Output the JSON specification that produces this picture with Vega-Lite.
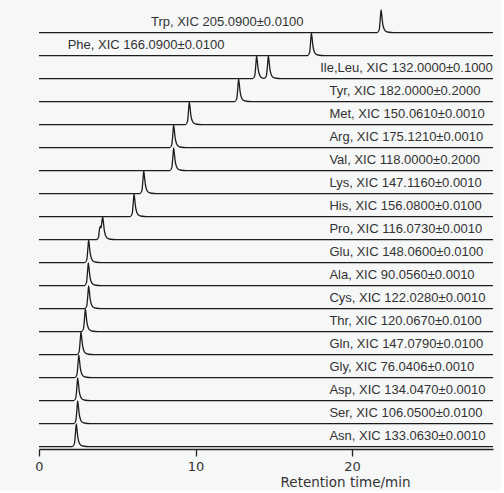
{
"$schema":"https://vega.github.io/schema/vega-lite/v6.json",
"background":"#f6f7f7",
"padding":{"left":34,"top":7,"right":5,"bottom":2},
"bounds":"flush",
"data":{"values":[
{"name":"Trp","time":0,"signal":0,"label":"Trp, XIC 205.0900±0.0100"},{"name":"Trp","time":21.6,"signal":0},{"name":"Trp","time":21.73,"signal":0.12},{"name":"Trp","time":21.8,"signal":0.6},{"name":"Trp","time":21.85,"signal":1},{"name":"Trp","time":21.89,"signal":0.8},{"name":"Trp","time":21.95,"signal":0.42},{"name":"Trp","time":22.03,"signal":0.18},{"name":"Trp","time":22.15,"signal":0.06},{"name":"Trp","time":22.35,"signal":0.015},{"name":"Trp","time":22.65,"signal":0},{"name":"Trp","time":29,"signal":0},
{"name":"Phe","time":0,"signal":0,"label":"Phe, XIC 166.0900±0.0100"},{"name":"Phe","time":17.15,"signal":0},{"name":"Phe","time":17.28,"signal":0.12},{"name":"Phe","time":17.35,"signal":0.6},{"name":"Phe","time":17.4,"signal":1},{"name":"Phe","time":17.44,"signal":0.8},{"name":"Phe","time":17.5,"signal":0.42},{"name":"Phe","time":17.58,"signal":0.18},{"name":"Phe","time":17.7,"signal":0.06},{"name":"Phe","time":17.9,"signal":0.015},{"name":"Phe","time":18.2,"signal":0},{"name":"Phe","time":29,"signal":0},
{"name":"Ile,Leu","time":0,"signal":0,"label":"Ile,Leu, XIC 132.0000±0.1000"},{"name":"Ile,Leu","time":13.65,"signal":0},{"name":"Ile,Leu","time":13.78,"signal":0.12},{"name":"Ile,Leu","time":13.85,"signal":0.6},{"name":"Ile,Leu","time":13.9,"signal":1},{"name":"Ile,Leu","time":13.94,"signal":0.8},{"name":"Ile,Leu","time":14.0,"signal":0.42},{"name":"Ile,Leu","time":14.08,"signal":0.18},{"name":"Ile,Leu","time":14.2,"signal":0.05},{"name":"Ile,Leu","time":14.38,"signal":0.01},{"name":"Ile,Leu","time":14.52,"signal":0.12},{"name":"Ile,Leu","time":14.6,"signal":0.6},{"name":"Ile,Leu","time":14.65,"signal":1},{"name":"Ile,Leu","time":14.69,"signal":0.8},{"name":"Ile,Leu","time":14.75,"signal":0.42},{"name":"Ile,Leu","time":14.83,"signal":0.18},{"name":"Ile,Leu","time":14.95,"signal":0.06},{"name":"Ile,Leu","time":15.15,"signal":0.015},{"name":"Ile,Leu","time":15.45,"signal":0},{"name":"Ile,Leu","time":29,"signal":0},
{"name":"Tyr","time":0,"signal":0,"label":"Tyr, XIC 182.0000±0.2000"},{"name":"Tyr","time":12.5,"signal":0},{"name":"Tyr","time":12.63,"signal":0.12},{"name":"Tyr","time":12.7,"signal":0.6},{"name":"Tyr","time":12.75,"signal":1},{"name":"Tyr","time":12.79,"signal":0.8},{"name":"Tyr","time":12.85,"signal":0.42},{"name":"Tyr","time":12.93,"signal":0.18},{"name":"Tyr","time":13.05,"signal":0.06},{"name":"Tyr","time":13.25,"signal":0.015},{"name":"Tyr","time":13.55,"signal":0},{"name":"Tyr","time":29,"signal":0},
{"name":"Met","time":0,"signal":0,"label":"Met, XIC 150.0610±0.0010"},{"name":"Met","time":9.35,"signal":0},{"name":"Met","time":9.48,"signal":0.12},{"name":"Met","time":9.55,"signal":0.6},{"name":"Met","time":9.6,"signal":1},{"name":"Met","time":9.64,"signal":0.8},{"name":"Met","time":9.7,"signal":0.42},{"name":"Met","time":9.78,"signal":0.18},{"name":"Met","time":9.9,"signal":0.06},{"name":"Met","time":10.1,"signal":0.015},{"name":"Met","time":10.4,"signal":0},{"name":"Met","time":29,"signal":0},
{"name":"Arg","time":0,"signal":0,"label":"Arg, XIC 175.1210±0.0010"},{"name":"Arg","time":8.35,"signal":0},{"name":"Arg","time":8.48,"signal":0.12},{"name":"Arg","time":8.55,"signal":0.6},{"name":"Arg","time":8.6,"signal":1},{"name":"Arg","time":8.64,"signal":0.8},{"name":"Arg","time":8.7,"signal":0.42},{"name":"Arg","time":8.78,"signal":0.18},{"name":"Arg","time":8.9,"signal":0.06},{"name":"Arg","time":9.1,"signal":0.015},{"name":"Arg","time":9.4,"signal":0},{"name":"Arg","time":29,"signal":0},
{"name":"Val","time":0,"signal":0,"label":"Val, XIC 118.0000±0.2000"},{"name":"Val","time":8.35,"signal":0},{"name":"Val","time":8.48,"signal":0.12},{"name":"Val","time":8.55,"signal":0.6},{"name":"Val","time":8.6,"signal":1},{"name":"Val","time":8.64,"signal":0.8},{"name":"Val","time":8.7,"signal":0.42},{"name":"Val","time":8.78,"signal":0.18},{"name":"Val","time":8.9,"signal":0.06},{"name":"Val","time":9.1,"signal":0.015},{"name":"Val","time":9.4,"signal":0},{"name":"Val","time":29,"signal":0},
{"name":"Lys","time":0,"signal":0,"label":"Lys, XIC 147.1160±0.0010"},{"name":"Lys","time":6.44,"signal":0},{"name":"Lys","time":6.57,"signal":0.12},{"name":"Lys","time":6.64,"signal":0.6},{"name":"Lys","time":6.69,"signal":1},{"name":"Lys","time":6.73,"signal":0.8},{"name":"Lys","time":6.79,"signal":0.42},{"name":"Lys","time":6.87,"signal":0.18},{"name":"Lys","time":6.99,"signal":0.06},{"name":"Lys","time":7.19,"signal":0.015},{"name":"Lys","time":7.49,"signal":0},{"name":"Lys","time":29,"signal":0},
{"name":"His","time":0,"signal":0,"label":"His, XIC 156.0800±0.0100"},{"name":"His","time":5.82,"signal":0},{"name":"His","time":5.95,"signal":0.12},{"name":"His","time":6.02,"signal":0.6},{"name":"His","time":6.07,"signal":1},{"name":"His","time":6.11,"signal":0.8},{"name":"His","time":6.17,"signal":0.42},{"name":"His","time":6.25,"signal":0.18},{"name":"His","time":6.37,"signal":0.06},{"name":"His","time":6.57,"signal":0.015},{"name":"His","time":6.87,"signal":0},{"name":"His","time":29,"signal":0},
{"name":"Pro","time":0,"signal":0,"label":"Pro, XIC 116.0730±0.0010"},{"name":"Pro","time":3.68,"signal":0},{"name":"Pro","time":3.8,"signal":0.1},{"name":"Pro","time":3.86,"signal":0.45},{"name":"Pro","time":3.91,"signal":0.58},{"name":"Pro","time":3.96,"signal":0.52},{"name":"Pro","time":4.01,"signal":0.75},{"name":"Pro","time":4.07,"signal":1},{"name":"Pro","time":4.11,"signal":0.8},{"name":"Pro","time":4.17,"signal":0.42},{"name":"Pro","time":4.25,"signal":0.18},{"name":"Pro","time":4.37,"signal":0.06},{"name":"Pro","time":4.57,"signal":0.015},{"name":"Pro","time":4.87,"signal":0},{"name":"Pro","time":29,"signal":0},
{"name":"Glu","time":0,"signal":0,"label":"Glu, XIC 148.0600±0.0100"},{"name":"Glu","time":2.92,"signal":0},{"name":"Glu","time":3.05,"signal":0.12},{"name":"Glu","time":3.12,"signal":0.6},{"name":"Glu","time":3.17,"signal":1},{"name":"Glu","time":3.21,"signal":0.8},{"name":"Glu","time":3.27,"signal":0.42},{"name":"Glu","time":3.35,"signal":0.18},{"name":"Glu","time":3.47,"signal":0.06},{"name":"Glu","time":3.67,"signal":0.015},{"name":"Glu","time":3.97,"signal":0},{"name":"Glu","time":29,"signal":0},
{"name":"Ala","time":0,"signal":0,"label":"Ala, XIC 90.0560±0.0010"},{"name":"Ala","time":2.9,"signal":0},{"name":"Ala","time":3.03,"signal":0.12},{"name":"Ala","time":3.1,"signal":0.6},{"name":"Ala","time":3.15,"signal":1},{"name":"Ala","time":3.19,"signal":0.8},{"name":"Ala","time":3.25,"signal":0.42},{"name":"Ala","time":3.33,"signal":0.18},{"name":"Ala","time":3.45,"signal":0.06},{"name":"Ala","time":3.65,"signal":0.015},{"name":"Ala","time":3.95,"signal":0},{"name":"Ala","time":29,"signal":0},
{"name":"Cys","time":0,"signal":0,"label":"Cys, XIC 122.0280±0.0010"},{"name":"Cys","time":2.92,"signal":0},{"name":"Cys","time":3.05,"signal":0.12},{"name":"Cys","time":3.12,"signal":0.6},{"name":"Cys","time":3.17,"signal":1},{"name":"Cys","time":3.21,"signal":0.8},{"name":"Cys","time":3.27,"signal":0.42},{"name":"Cys","time":3.35,"signal":0.18},{"name":"Cys","time":3.47,"signal":0.06},{"name":"Cys","time":3.67,"signal":0.015},{"name":"Cys","time":3.97,"signal":0},{"name":"Cys","time":29,"signal":0},
{"name":"Thr","time":0,"signal":0,"label":"Thr, XIC 120.0670±0.0100"},{"name":"Thr","time":2.71,"signal":0},{"name":"Thr","time":2.84,"signal":0.12},{"name":"Thr","time":2.91,"signal":0.6},{"name":"Thr","time":2.96,"signal":1},{"name":"Thr","time":3.0,"signal":0.8},{"name":"Thr","time":3.06,"signal":0.42},{"name":"Thr","time":3.14,"signal":0.18},{"name":"Thr","time":3.26,"signal":0.06},{"name":"Thr","time":3.46,"signal":0.015},{"name":"Thr","time":3.76,"signal":0},{"name":"Thr","time":29,"signal":0},
{"name":"Gln","time":0,"signal":0,"label":"Gln, XIC 147.0790±0.0100"},{"name":"Gln","time":2.43,"signal":0},{"name":"Gln","time":2.56,"signal":0.12},{"name":"Gln","time":2.63,"signal":0.6},{"name":"Gln","time":2.68,"signal":1},{"name":"Gln","time":2.72,"signal":0.8},{"name":"Gln","time":2.78,"signal":0.42},{"name":"Gln","time":2.86,"signal":0.18},{"name":"Gln","time":2.98,"signal":0.06},{"name":"Gln","time":3.18,"signal":0.015},{"name":"Gln","time":3.48,"signal":0},{"name":"Gln","time":29,"signal":0},
{"name":"Gly","time":0,"signal":0,"label":"Gly, XIC 76.0406±0.0010"},{"name":"Gly","time":2.29,"signal":0},{"name":"Gly","time":2.42,"signal":0.12},{"name":"Gly","time":2.49,"signal":0.6},{"name":"Gly","time":2.54,"signal":1},{"name":"Gly","time":2.58,"signal":0.8},{"name":"Gly","time":2.64,"signal":0.42},{"name":"Gly","time":2.72,"signal":0.18},{"name":"Gly","time":2.84,"signal":0.06},{"name":"Gly","time":3.04,"signal":0.015},{"name":"Gly","time":3.34,"signal":0},{"name":"Gly","time":29,"signal":0},
{"name":"Asp","time":0,"signal":0,"label":"Asp, XIC 134.0470±0.0010"},{"name":"Asp","time":2.22,"signal":0},{"name":"Asp","time":2.35,"signal":0.12},{"name":"Asp","time":2.42,"signal":0.6},{"name":"Asp","time":2.47,"signal":1},{"name":"Asp","time":2.51,"signal":0.8},{"name":"Asp","time":2.57,"signal":0.42},{"name":"Asp","time":2.65,"signal":0.18},{"name":"Asp","time":2.77,"signal":0.06},{"name":"Asp","time":2.97,"signal":0.015},{"name":"Asp","time":3.27,"signal":0},{"name":"Asp","time":29,"signal":0},
{"name":"Ser","time":0,"signal":0,"label":"Ser, XIC 106.0500±0.0100"},{"name":"Ser","time":2.22,"signal":0},{"name":"Ser","time":2.35,"signal":0.12},{"name":"Ser","time":2.42,"signal":0.6},{"name":"Ser","time":2.47,"signal":1},{"name":"Ser","time":2.51,"signal":0.8},{"name":"Ser","time":2.57,"signal":0.42},{"name":"Ser","time":2.65,"signal":0.18},{"name":"Ser","time":2.77,"signal":0.06},{"name":"Ser","time":2.97,"signal":0.015},{"name":"Ser","time":3.27,"signal":0},{"name":"Ser","time":29,"signal":0},
{"name":"Asn","time":0,"signal":0,"label":"Asn, XIC 133.0630±0.0010"},{"name":"Asn","time":2.13,"signal":0},{"name":"Asn","time":2.26,"signal":0.12},{"name":"Asn","time":2.33,"signal":0.6},{"name":"Asn","time":2.38,"signal":1},{"name":"Asn","time":2.42,"signal":0.8},{"name":"Asn","time":2.48,"signal":0.42},{"name":"Asn","time":2.56,"signal":0.18},{"name":"Asn","time":2.68,"signal":0.06},{"name":"Asn","time":2.88,"signal":0.015},{"name":"Asn","time":3.18,"signal":0},{"name":"Asn","time":29,"signal":0}
]},
"facet":{"row":{"field":"name","type":"nominal","sort":["Trp","Phe","Ile,Leu","Tyr","Met","Arg","Val","Lys","His","Pro","Glu","Ala","Cys","Thr","Gln","Gly","Asp","Ser","Asn"],"header":null}},
"spacing":{"row":0},
"spec":{
"width":454,"height":22.6,
"layer":[
{"mark":{"type":"line","color":"#1c1c1c","strokeWidth":1.3,"interpolate":"monotone","clip":false},
"encoding":{
"x":{"field":"time","type":"quantitative","scale":{"domain":[0,29],"nice":false,"zero":false},
"axis":{"values":[0,10,20],"title":"Retention time/min","offset":2,"grid":false,"domainColor":"#222","domainWidth":1.3,"tickColor":"#222","tickWidth":1.3,"tickSize":7,"labelFont":"DejaVu Sans","labelFontSize":13,"labelColor":"#333","labelPadding":4,"labelFlush":false,"titleFont":"DejaVu Sans","titleFontSize":13.5,"titleFontWeight":"normal","titleColor":"#333","titleX":306,"titleAlign":"center","titlePadding":2}},
"y":{"field":"signal","type":"quantitative","scale":{"domain":[0,1],"nice":false,"zero":true},"axis":null},
"order":{"field":"time"}}},
{"transform":[{"filter":"datum.time == 0 && datum.name != 'Trp' && datum.name != 'Phe' && datum.name != 'Ile,Leu'"}],
"mark":{"type":"text","align":"left","baseline":"middle","font":"Liberation Sans","fontSize":13,"color":"#333"},
"encoding":{"x":{"datum":18.55,"type":"quantitative"},"y":{"datum":0.46,"type":"quantitative"},"text":{"field":"label","type":"nominal"}}},
{"transform":[{"filter":"datum.time == 0 && datum.name == 'Ile,Leu'"}],
"mark":{"type":"text","align":"left","baseline":"middle","font":"Liberation Sans","fontSize":13,"color":"#333"},
"encoding":{"x":{"datum":17.96,"type":"quantitative"},"y":{"datum":0.46,"type":"quantitative"},"text":{"field":"label","type":"nominal"}}},
{"transform":[{"filter":"datum.time == 0 && datum.name == 'Trp'"}],
"mark":{"type":"text","align":"left","baseline":"middle","font":"Liberation Sans","fontSize":13,"color":"#333"},
"encoding":{"x":{"datum":7.15,"type":"quantitative"},"y":{"datum":0.46,"type":"quantitative"},"text":{"field":"label","type":"nominal"}}},
{"transform":[{"filter":"datum.time == 0 && datum.name == 'Phe'"}],
"mark":{"type":"text","align":"left","baseline":"middle","font":"Liberation Sans","fontSize":13,"color":"#333"},
"encoding":{"x":{"datum":1.83,"type":"quantitative"},"y":{"datum":0.46,"type":"quantitative"},"text":{"field":"label","type":"nominal"}}}
]},
"config":{"view":{"stroke":null}}
}
